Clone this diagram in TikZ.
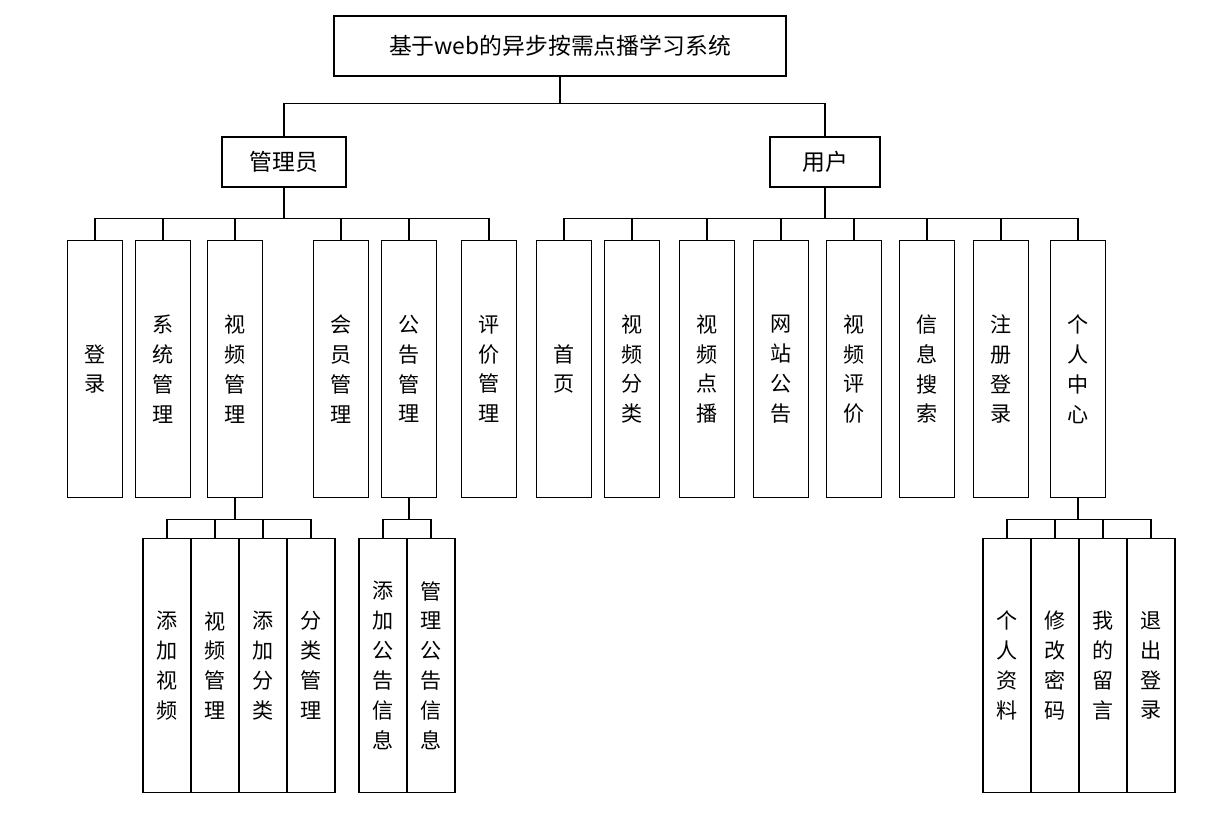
\documentclass[tikz,border=0pt]{standalone}
\usepackage{fontspec}
\setmainfont{Noto Sans CJK SC}
\usetikzlibrary{positioning}

\begin{document}
\begin{tikzpicture}[
  x=0.02cm, y=-0.02cm,
  every node/.style={font=\fontsize{12}{17}\selectfont},
  box/.style={draw, line width=0.6pt, align=center, inner sep=0pt},
  head/.style={box, minimum height=50*0.02cm},
  leaf/.style={box, anchor=north, minimum width=55*0.02cm, minimum height=257*0.02cm},
  sub/.style={box, anchor=north, minimum width=48*0.02cm, minimum height=254*0.02cm},
  link/.style={line width=0.6pt}
]
\useasboundingbox (0,0) rectangle (1212,812);

% === top levels ===
\node[head, minimum width=452*0.02cm, minimum height=60*0.02cm, font=\fontsize{13}{15}\selectfont] (sys) at (560,46) {基于web的异步按需点播学习系统};
\node[head, minimum width=124*0.02cm, font=\fontsize{13}{15}\selectfont] (admin) at (284,162) {管理员};
\node[head, minimum width=110*0.02cm, font=\fontsize{13}{15}\selectfont] (user) at (825,162) {用户};

\draw[link] (sys.south) -- ++(0,27) -| (admin.north);
\draw[link] (sys.south) -- ++(0,27) -| (user.north);

% === admin row ===
\node[leaf] (login) at (95,240) {登\\录};
\node[leaf] (sysm) at (163,240) {系\\统\\管\\理};
\node[leaf] (videom) at (235,240) {视\\频\\管\\理};
\node[leaf] (member) at (341,240) {会\\员\\管\\理};
\node[leaf] (notice) at (409,240) {公\\告\\管\\理};
\node[leaf] (review) at (489,240) {评\\价\\管\\理};

\foreach \n in {login,sysm,videom,member,notice,review}
  \draw[link] (admin.south) -- ++(0,31) -| (\n.north);

% === user row ===
\node[leaf] (home) at (564,240) {首\\页};
\node[leaf] (vcat) at (632,240) {视\\频\\分\\类};
\node[leaf] (vplay) at (707,240) {视\\频\\点\\播};
\node[leaf] (site) at (781,240) {网\\站\\公\\告};
\node[leaf] (vrev) at (854,240) {视\\频\\评\\价};
\node[leaf] (search) at (927,240) {信\\息\\搜\\索};
\node[leaf] (reg) at (1001,240) {注\\册\\登\\录};
\node[leaf] (center) at (1078,240) {个\\人\\中\\心};

\foreach \n in {home,vcat,vplay,site,vrev,search,reg,center}
  \draw[link] (user.south) -- ++(0,31) -| (\n.north);

% === video sub ===
\node[sub] (addv) at (167,538) {添\\加\\视\\频};
\node[sub] (mgv) at (215,538) {视\\频\\管\\理};
\node[sub] (addc) at (263,538) {添\\加\\分\\类};
\node[sub] (mgc) at (311,538) {分\\类\\管\\理};
\foreach \n in {addv,mgv,addc,mgc}
  \draw[link] (videom.south) -- ++(0,21) -| (\n.north);

% === notice sub ===
\node[sub] (addn) at (383,538) {添\\加\\公\\告\\信\\息};
\node[sub] (mgn) at (431,538) {管\\理\\公\\告\\信\\息};
\foreach \n in {addn,mgn}
  \draw[link] (notice.south) -- ++(0,21) -| (\n.north);

% === personal sub ===
\node[sub] (info) at (1007,538) {个\\人\\资\\料};
\node[sub] (pwd) at (1055,538) {修\\改\\密\\码};
\node[sub] (msg) at (1103,538) {我\\的\\留\\言};
\node[sub] (logout) at (1151,538) {退\\出\\登\\录};
\foreach \n in {info,pwd,msg,logout}
  \draw[link] (center.south) -- ++(0,21) -| (\n.north);

\end{tikzpicture}
\end{document}
